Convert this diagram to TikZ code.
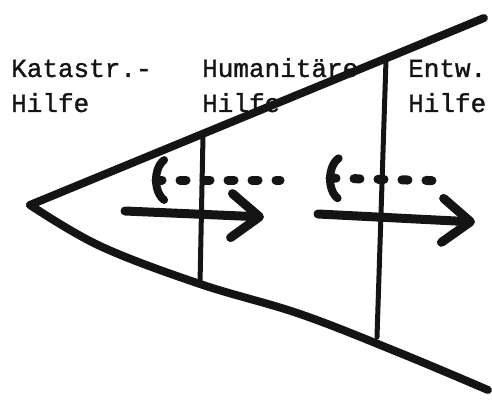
\documentclass[tikz,border=0pt]{standalone}
\usepackage{fontspec}
\setmonofont[FakeBold=1.2]{Liberation Mono}
\usepackage{tikz}
\usetikzlibrary{arrows.meta}
\definecolor{skink}{HTML}{141414}

\tikzset{
  label/.style={font=\ttfamily\fontsize{26}{30}\selectfont, inner sep=0pt, anchor=base west, text=skink},
  edge/.style={draw=skink, line width=8pt, line cap=round, line join=round},
  divider/.style={draw=skink, line width=5pt, line cap=round},
  push/.style={draw=skink, line width=9pt, line cap=round, line join=round,
    -{Straight Barb[length=28pt, width=44pt, line cap=round, line join=round]}},
  pull/.style={draw=skink, line width=9pt, line cap=round, dash pattern=on 6pt off 18pt,
    {Arc Barb[arc=130, length=18pt, width=52pt, line width=8pt, line cap=round]}-}
}

\begin{document}
\begin{tikzpicture}[x=1pt, y=-1pt]
  \useasboundingbox (0,0) rectangle (492,401);
  % the three phases
  \node[label] (kat)  at (11,77)  {Katastr.-};
  \node[label] (katH) at (11,112) {Hilfe};
  \node[label] (hum)  at (202,77) {Humanitäre};
  \node[label] (humH) at (202,112) {Hilfe};
  \node[label] (ent)  at (408,77) {Entw.};
  \node[label] (entH) at (408,112) {Hilfe};
  % the funnel
  \coordinate (apex) at (30,205);
  \coordinate (topEnd) at (484,18);
  \coordinate (botEnd) at (488,390);
  \draw[edge] (apex) -- (topEnd);
  \draw[edge] plot[smooth, tension=0.6] coordinates {(apex) (100,246) (200,284) (300,314) (400,353) (botEnd)};
  % borders between the phases
  \coordinate (d1top) at (203,136);
  \coordinate (d1bot) at (200,284);
  \coordinate (d2top) at (386,60);
  \coordinate (d2bot) at (377,337);
  \draw[divider] (d1top) -- (d1bot);
  \draw[divider] (d2top) -- (d2bot);
  % forward and backward steps
  \coordinate (f1a) at (125,211);
  \coordinate (f1b) at (264,217);
  \coordinate (f2a) at (318,214);
  \coordinate (f2b) at (475,222);
  \draw[push] (f1a) -- (f1b);
  \draw[push] (f2a) -- (f2b);
  \coordinate (b1a) at (152,180);
  \coordinate (b1b) at (280,180);
  \coordinate (b2a) at (326,178);
  \coordinate (b2b) at (448,181);
  \draw[pull] (b1a) -- (b1b);
  \draw[pull] (b2a) -- (b2b);
\end{tikzpicture}
\end{document}
